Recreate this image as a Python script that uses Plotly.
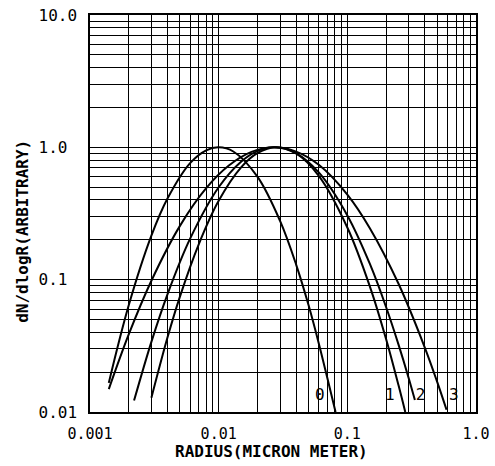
import plotly.graph_objects as go

# ---- data (radius in micron, dN/dlogR arbitrary) ----
r0 = [0.0014, 0.002, 0.003, 0.004, 0.006, 0.008, 0.01, 0.013, 0.02, 0.03, 0.04, 0.05, 0.06, 0.07, 0.081]
n0 = [0.0166, 0.064, 0.215, 0.41, 0.76, 0.95, 1.0, 0.93, 0.60, 0.278, 0.130, 0.064, 0.033, 0.018, 0.0100]

r1 = [0.003, 0.004, 0.005, 0.007, 0.01, 0.015, 0.02, 0.028, 0.04, 0.06, 0.1, 0.15, 0.2, 0.25, 0.282]
n1 = [0.0128, 0.0365, 0.0745, 0.185, 0.394, 0.708, 0.903, 1.0, 0.899, 0.609, 0.248, 0.0883, 0.0356, 0.0159, 0.0100]

r2 = [0.0022, 0.003, 0.004, 0.006, 0.01, 0.015, 0.02, 0.027, 0.04, 0.06, 0.1, 0.15, 0.2, 0.25, 0.3, 0.335]
n2 = [0.0122, 0.0339, 0.0775, 0.204, 0.499, 0.782, 0.937, 1.0, 0.901, 0.646, 0.306, 0.131, 0.0622, 0.0323, 0.0180, 0.0123]

r3 = [0.0014, 0.002, 0.003, 0.005, 0.008, 0.012, 0.018, 0.027, 0.04, 0.06, 0.1, 0.15, 0.25, 0.4, 0.5, 0.59]
n3 = [0.0149, 0.0386, 0.0982, 0.255, 0.491, 0.728, 0.923, 1.0, 0.929, 0.738, 0.440, 0.244, 0.0931, 0.0307, 0.0168, 0.0104]

curve_labels = ["0", "1", "2", "3"]
label_r = [0.0612, 0.214, 0.371, 0.673]
label_n = [0.0132, 0.0132, 0.0132, 0.0132]

x_decades = [0.001, 0.01, 0.1, 1.0]
x_ticktext = ["0.001", "0.01", "0.1", "1.0"]
y_decades = [0.01, 0.1, 1.0, 10.0]
y_ticktext = ["0.01", "0.1\u00a0", "1.0\u00a0", "10.0"]

x_title = "RADIUS(MICRON METER)"
y_title = "dN/dlogR(ARBITRARY)"

# grid positions (1..9 in each decade), labels only on decades
def grid(decades):
    vals = []
    for d in decades[:-1]:
        for m in range(1, 10):
            vals.append(round(m * d, 6))
    vals.append(decades[-1])
    return vals

def grid_text(decades, texts):
    out = []
    for v in grid(decades):
        out.append(texts[decades.index(v)] if v in decades else "")
    return out

x_vals = grid(x_decades)
y_vals = grid(y_decades)

fig = go.Figure()
for r, n in [(r0, n0), (r1, n1), (r2, n2), (r3, n3)]:
    fig.add_trace(go.Scatter(
        x=r, y=n, mode="lines",
        line=dict(color="black", width=2, shape="spline", smoothing=1.0),
        showlegend=False, hoverinfo="skip"))

mono = "DejaVu Sans Mono"
fig.add_trace(go.Scatter(
    x=label_r, y=label_n, mode="text", text=curve_labels,
    textfont=dict(family=mono, size=16, color="black"),
    textposition="middle center", showlegend=False, hoverinfo="skip"))

fig.update_layout(
    width=495, height=466,
    margin=dict(l=90, r=19, t=15, b=54, autoexpand=False),
    paper_bgcolor="white", plot_bgcolor="white",
    font=dict(family=mono, size=15, color="black"),
    xaxis=dict(
        type="log", range=[-3, 0], automargin=False,
        tickmode="array", tickvals=x_vals, ticktext=grid_text(x_decades, x_ticktext),
        showgrid=True, gridcolor="black", gridwidth=1,
        showline=True, linecolor="black", linewidth=1.5, mirror=True,
        ticks="", ticklabelstandoff=7, zeroline=False,
        tickfont=dict(family=mono, size=15, color="black"),
    ),
    yaxis=dict(
        type="log", range=[-2, 1], automargin=False,
        tickmode="array", tickvals=y_vals, ticktext=grid_text(y_decades, y_ticktext),
        showgrid=True, gridcolor="black", gridwidth=1,
        showline=True, linecolor="black", linewidth=1.5, mirror=True,
        ticks="", ticklabelstandoff=8, zeroline=False,
        tickfont=dict(family=mono, size=16, color="black"),
    ),
    annotations=[
        dict(text="<b>" + x_title + "</b>", xref="paper", yref="paper",
             x=0.47, y=-0.1, xanchor="center", yanchor="middle", showarrow=False,
             font=dict(family=mono, size=16, color="black")),
        dict(text="<b>" + y_title + "</b>", xref="paper", yref="paper",
             x=-0.175, y=0.455, xanchor="center", yanchor="middle", showarrow=False,
             textangle=-90, font=dict(family=mono, size=16, color="black")),
    ],
)

fig.write_html("out.html",
               config={"displayModeBar": False},
               post_script="document.body.style.margin='0px';document.body.style.overflow='hidden';")
